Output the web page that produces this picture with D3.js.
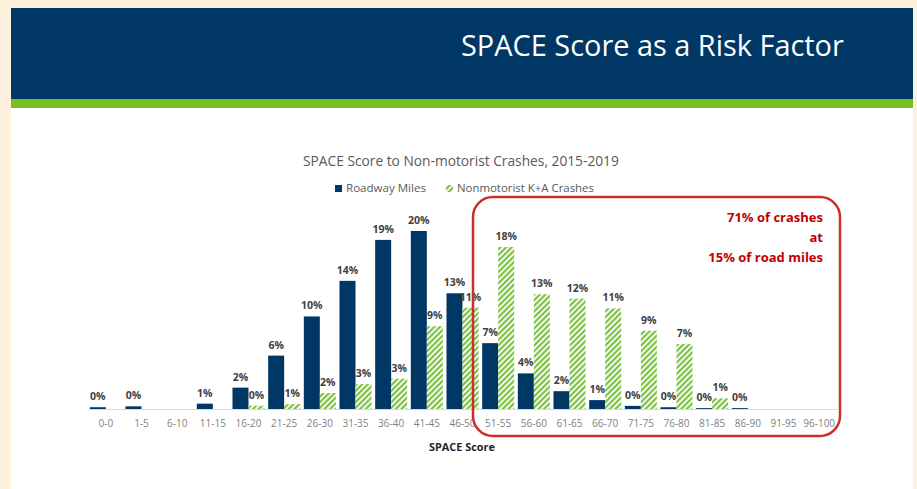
<!DOCTYPE html>
<html><head><meta charset="utf-8">
<script src="https://cdn.jsdelivr.net/npm/d3@7"></script>
<style>body{margin:0;background:#fdf1dd;}svg{display:block}</style>
</head><body>
<svg id="c" width="917" height="489"></svg>
<script>
const categories = ["0-0","1-5","6-10","11-15","16-20","21-25","26-30","31-35","36-40","41-45","46-50","51-55","56-60","61-65","66-70","71-75","76-80","81-85","86-90","91-95","96-100"];
const seriesNames = ["Roadway Miles","Nonmotorist K+A Crashes"];
const roadwayMiles = [0.2,0.3,null,0.6,2.4,6.0,10.4,14.4,19.0,20.0,13.0,7.4,4.0,2.0,1.0,0.35,0.2,0.1,0.1,null,null];
const crashes = [null,null,null,null,0.37,0.55,1.8,2.8,3.4,9.3,11.4,18.2,12.9,12.4,11.3,8.8,7.3,1.2,null,null,null];
const headerTitle = "SPACE Score as a Risk Factor";
const chartTitle = "SPACE Score to Non-motorist Crashes, 2015-2019";
const axisTitle = "SPACE Score";
const annotationLines = ["71% of crashes","at","15% of road miles"];

const NAVY = "#003764", GREEN = "#7cc142", FONT = "'Open Sans', sans-serif";
const svg = d3.select("#c");

function fit(sel, w){
  const l = sel.node().getComputedTextLength();
  sel.attr("font-size", parseFloat(sel.attr("font-size")) * w / l);
  return sel;
}

const defs = svg.append("defs");
const pat = defs.append("pattern").attr("id","hatch").attr("patternUnits","userSpaceOnUse")
  .attr("width",4).attr("height",4).attr("patternTransform","rotate(45)");
pat.append("rect").attr("width",4).attr("height",4).attr("fill","#fff");
pat.append("rect").attr("width",2.2).attr("height",4).attr("fill",GREEN);

// page background / header
svg.append("rect").attr("width",917).attr("height",489).attr("fill","#fdf1dd");
svg.append("rect").attr("x",11).attr("y",108).attr("width",902).attr("height",381).attr("fill","#fff");
svg.append("rect").attr("x",11).attr("y",8).attr("width",902).attr("height",91).attr("fill",NAVY);
svg.append("rect").attr("x",11).attr("y",99).attr("width",902).attr("height",9).attr("fill","#78be20");
fit(svg.append("text").attr("x",461).attr("y",56).attr("font-family",FONT).attr("font-size",24)
  .attr("fill","#fff").text(headerTitle), 383);

// chart title
fit(svg.append("text").attr("x",303).attr("y",166).attr("font-family",FONT).attr("font-size",13)
  .attr("fill","#595959").text(chartTitle), 316);

// legend
const lg = svg.append("g");
lg.append("rect").attr("x",335).attr("y",185).attr("width",7).attr("height",7).attr("fill",NAVY);
fit(lg.append("text").attr("x",346).attr("y",192).attr("font-family",FONT).attr("font-size",10)
  .attr("fill","#595959").text(seriesNames[0]), 80);
lg.append("rect").attr("x",446).attr("y",185).attr("width",7).attr("height",7).attr("fill","url(#hatch)");
fit(lg.append("text").attr("x",457).attr("y",192).attr("font-family",FONT).attr("font-size",10)
  .attr("fill","#595959").text(seriesNames[1]), 137);

// scales
const x = d3.scaleBand().domain(categories).range([88,837]).padding(0);
const xs = d3.scaleBand().domain(seriesNames).range([0,x.bandwidth()]).paddingInner(0).paddingOuter(0.114);
const y = d3.scaleLinear().domain([0,20]).range([409,231]);

// axis
const ax = svg.append("g").attr("transform","translate(0,409)")
  .call(d3.axisBottom(x).tickSize(0).tickPadding(11));
ax.select(".domain").attr("stroke","#d9d9d9");
ax.selectAll("text").attr("font-family",FONT).attr("font-size",10).attr("fill","#7f7f7f");

const rows = categories.map((c,i)=>({cat:c, vals:[
  {s:seriesNames[0], v:roadwayMiles[i]}, {s:seriesNames[1], v:crashes[i]}]}));

const g = svg.append("g");
const grp = g.selectAll("g").data(rows).join("g").attr("transform",d=>`translate(${x(d.cat)},0)`);
grp.selectAll("rect").data(d=>d.vals.filter(e=>e.v!=null)).join("rect")
  .attr("x",d=>xs(d.s)).attr("width",xs.bandwidth())
  .attr("y",d=>y(d.v)).attr("height",d=>y(0)-y(d.v))
  .attr("fill",d=>d.s===seriesNames[0]?NAVY:"url(#hatch)");
grp.selectAll("text").data(d=>d.vals.filter(e=>e.v!=null)).join("text")
  .attr("x",d=>xs(d.s)+xs.bandwidth()/2).attr("y",d=>y(d.v)-7)
  .attr("text-anchor","middle").attr("font-family",FONT).attr("font-size",10.5).attr("font-weight","bold")
  .attr("fill","#404040").text(d=>Math.round(d.v)+"%");

// axis title
fit(svg.append("text").attr("x",429).attr("y",451).attr("font-family",FONT).attr("font-size",11)
  .attr("font-weight","bold").attr("fill","#262626").text(axisTitle), 66);

// annotation box
svg.append("rect").attr("x",473).attr("y",197).attr("width",367).attr("height",239).attr("rx",20)
  .attr("fill","none").attr("stroke","#c9302c").attr("stroke-width",2.5);
svg.selectAll(".ann").data(annotationLines).join("text").attr("class","ann")
  .attr("x",823).attr("y",(d,i)=>221.5+i*20).attr("text-anchor","end")
  .attr("font-family",FONT).attr("font-size",13).attr("font-weight","bold").attr("fill","#c00000").text(d=>d);
</script>
</body></html>
